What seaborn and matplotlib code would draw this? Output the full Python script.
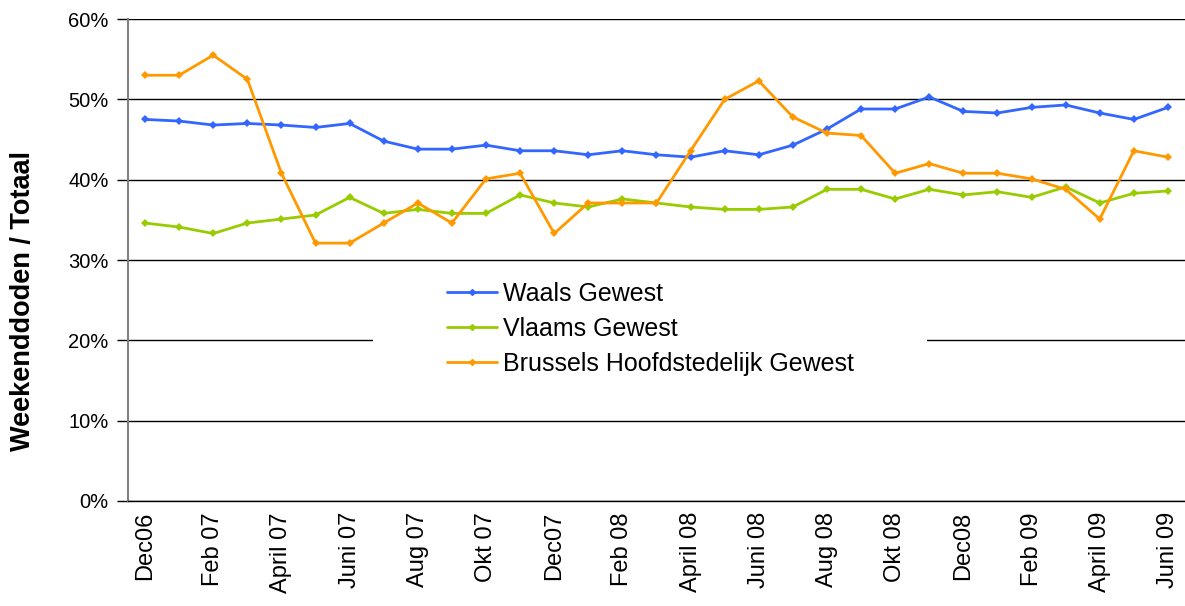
import seaborn as sns
import matplotlib.pyplot as plt
import matplotlib.patches as mpatches
import numpy as np
import pandas as pd

sns.set_theme(style="white")
plt.rcParams['font.family'] = ['Liberation Sans', 'DejaVu Sans']
plt.rcParams['text.color'] = 'black'
plt.rcParams['axes.labelcolor'] = 'black'

# months Dec06 .. Juni 09
months = ["Dec06", "Jan 07", "Feb 07", "Mrt 07", "April 07", "Mei 07", "Juni 07", "Juli 07",
          "Aug 07", "Sep 07", "Okt 07", "Nov 07", "Dec07", "Jan 08", "Feb 08", "Mrt 08",
          "April 08", "Mei 08", "Juni 08", "Juli 08", "Aug 08", "Sep 08", "Okt 08", "Nov 08",
          "Dec08", "Jan 09", "Feb 09", "Mrt 09", "April 09", "Mei 09", "Juni 09"]
tick_labels = ["Dec06", "Feb 07", "April 07", "Juni 07", "Aug 07", "Okt 07", "Dec07", "Feb 08",
               "April 08", "Juni 08", "Aug 08", "Okt 08", "Dec08", "Feb 09", "April 09", "Juni 09"]

waals = [47.5, 47.3, 46.8, 47.0, 46.8, 46.5, 47.0, 44.8, 43.8, 43.8,
         44.3, 43.6, 43.6, 43.1, 43.6, 43.1, 42.8, 43.6, 43.1, 44.3,
         46.3, 48.8, 48.8, 50.3, 48.5, 48.3, 49.0, 49.3, 48.3, 47.5, 49.0]
vlaams = [34.6, 34.1, 33.3, 34.6, 35.1, 35.6, 37.8, 35.8, 36.3, 35.8,
          35.8, 38.1, 37.1, 36.6, 37.6, 37.1, 36.6, 36.3, 36.3, 36.6,
          38.8, 38.8, 37.6, 38.8, 38.1, 38.5, 37.8, 39.1, 37.1, 38.3, 38.6]
brussel = [53.0, 53.0, 55.5, 52.5, 40.8, 32.1, 32.1, 34.6, 37.1, 34.6,
           40.1, 40.8, 33.3, 37.1, 37.1, 37.1, 43.6, 50.0, 52.3, 47.8,
           45.8, 45.5, 40.8, 42.0, 40.8, 40.8, 40.1, 38.8, 35.1, 43.6, 42.8]

series = ["Waals Gewest", "Vlaams Gewest", "Brussels Hoofdstedelijk Gewest"]
colors = ["#3366FF", "#99CC00", "#FF9900"]

df = pd.DataFrame({
    "idx": np.tile(np.arange(len(months)), 3),
    "value": waals + vlaams + brussel,
    "region": np.repeat(series, len(months)),
})

fig = plt.figure(figsize=(11.85, 6.06), dpi=100)
ax = fig.add_axes([0.108, 0.1733, 0.892, 0.7953])

sns.lineplot(data=df, x="idx", y="value", hue="region", hue_order=series,
             palette=dict(zip(series, colors)), marker="D", markersize=4.5,
             markeredgewidth=0, linewidth=2, ax=ax, legend=False, zorder=3)

ax.set_xlim(-0.5, len(months) - 0.5)
ax.set_ylim(0, 60)
ax.set_yticks(np.arange(0, 61, 10))
ax.set_yticklabels([f"{v}%" for v in range(0, 61, 10)], fontsize=14.5)
ax.set_xticks(np.arange(0, len(months), 2))
ax.set_xticklabels(tick_labels, rotation=90, fontsize=17)
ax.set_xticks(np.arange(-0.5, len(months), 1), minor=True)
ax.tick_params(axis="x", which="major", length=0, pad=8, labelcolor="black")
ax.tick_params(axis="x", which="minor", length=8, width=1, color="#808080", direction="out")
ax.tick_params(axis="y", length=8, width=1, color="black", direction="out", left=True, pad=6,
               labelcolor="black")
ax.set_xlabel("")
ax.set_ylabel("Weekenddoden / Totaal", fontsize=19.5, fontweight="bold")
ax.yaxis.set_label_coords(-0.087, 0.415)

ax.yaxis.grid(True, color="black", linewidth=1)
ax.set_axisbelow(True)
for s in ["top", "right"]:
    ax.spines[s].set_visible(False)
ax.spines["left"].set_color("#808080")
ax.spines["left"].set_linewidth(1.5)
ax.spines["bottom"].set_color("black")
ax.spines["bottom"].set_linewidth(1)

# white box behind legend breaks the gridline
ax.add_patch(mpatches.Rectangle((0.232, 0.22), 0.524, 0.23, transform=ax.transAxes,
                                facecolor="white", edgecolor="none", zorder=1))
handles = [plt.Line2D([], [], color=c, marker="D", markersize=3, linewidth=2) for c in colors]
ax.legend(handles, series, loc="upper left", bbox_to_anchor=(0.302, 0.455), frameon=False,
          fontsize=18, handlelength=2.0, handletextpad=0.25, labelspacing=0.45,
          borderpad=0, borderaxespad=0, labelcolor="black")

fig.savefig("out.png", dpi=100)
